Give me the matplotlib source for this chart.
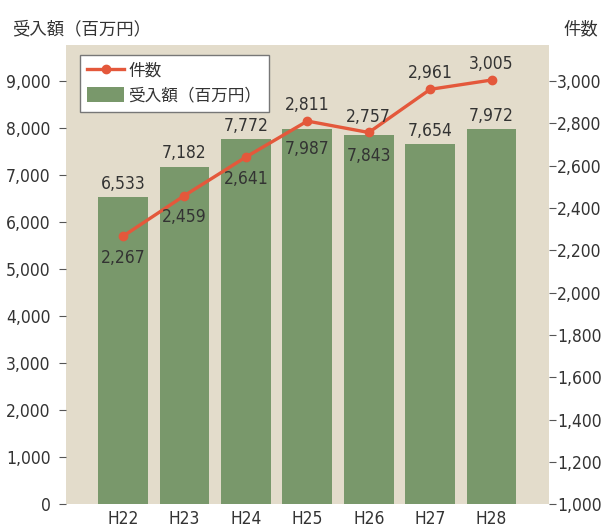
import matplotlib
matplotlib.use('Agg')
import matplotlib.pyplot as plt
import matplotlib.ticker as mticker
from matplotlib import font_manager

# data
years = ['H22', 'H23', 'H24', 'H25', 'H26', 'H27', 'H28']
amount = [6533, 7182, 7772, 7987, 7843, 7654, 7972]   # 受入額（百万円）
count = [2267, 2459, 2641, 2811, 2757, 2961, 3005]     # 件数
amount_inside = [False, False, False, True, True, False, False]
count_below = [True, True, True, False, False, False, False]

# look for a condensed face for the numbers
cond = None
for f in font_manager.fontManager.ttflist:
    fn = f.fname.lower()
    if ('narrow' in fn or 'condensed' in fn) and 'bold' not in fn and 'oblique' not in fn and 'italic' not in fn:
        cond = f.fname
        break
if cond:
    font_manager.fontManager.addfont(cond)
    num_name = font_manager.FontProperties(fname=cond).get_name()
else:
    num_name = 'Liberation Sans'
num_size = 12.5
plt.rcParams['font.family'] = [num_name, 'Noto Sans CJK JP', 'DejaVu Sans']
if cond and 'condensed' in cond.lower():
    plt.rcParams['font.stretch'] = 'condensed'
jp = ['Noto Sans CJK JP', 'DejaVu Sans']

bg = '#e3dccb'
bar_c = '#79986b'
line_c = '#e4583b'
txt = '#333333'

fig = plt.figure(figsize=(6.05, 5.28), dpi=100)
ax = fig.add_axes([0.109, 0.045, 0.798, 0.870])
ax.set_facecolor(bg)
x = list(range(len(years)))
bars = ax.bar(x, amount, width=0.81, color=bar_c, zorder=2)
ax.set_xlim(-0.93, 6.93)
ax.set_ylim(0, 9770)
ax.yaxis.set_major_locator(mticker.MultipleLocator(1000))
ax.yaxis.set_major_formatter(mticker.FuncFormatter(lambda v, p: f'{int(v):,}'))
ax.set_xticks(x)
ax.set_xticklabels(years)
for s in ax.spines.values():
    s.set_visible(False)
ax.tick_params(axis='x', length=0, labelsize=num_size, colors=txt, pad=4)
ax.tick_params(axis='y', length=5, width=0.8, labelsize=num_size, colors=txt, pad=6,
               direction='out', color='#555555')

ax2 = ax.twinx()
ax2.set_ylim(1000, 1000 + 9770 / 9000 * 2000)
ax2.yaxis.set_major_locator(mticker.MultipleLocator(200))
ax2.yaxis.set_major_formatter(mticker.FuncFormatter(lambda v, p: f'{int(v):,}'))
for s in ax2.spines.values():
    s.set_visible(False)
ax2.tick_params(axis='y', length=5, width=0.8, labelsize=num_size, colors=txt, pad=1,
                direction='out', color='#555555')
ln, = ax2.plot(x, count, color=line_c, lw=2.4, marker='o', ms=6, zorder=3)

for i, v in enumerate(amount):
    if amount_inside[i]:
        ax.annotate(f'{v:,}', (i, v), xytext=(0, -8), textcoords='offset points',
                    ha='center', va='top', fontsize=num_size, color=txt)
    else:
        ax.annotate(f'{v:,}', (i, v), xytext=(0, 3), textcoords='offset points',
                    ha='center', va='bottom', fontsize=num_size, color=txt)
for i, v in enumerate(count):
    if count_below[i]:
        ax2.annotate(f'{v:,}', (i, v), xytext=(0, -9), textcoords='offset points',
                     ha='center', va='top', fontsize=num_size, color=txt)
    else:
        ax2.annotate(f'{v:,}', (i, v), xytext=(0, 5), textcoords='offset points',
                     ha='center', va='bottom', fontsize=num_size, color=txt)

leg = ax2.legend([ln, bars], ['件数', '受入額（百万円）'], loc='upper left',
                 bbox_to_anchor=(0.029, 0.978), borderaxespad=0,
                 prop={'family': jp, 'size': 12},
                 frameon=True, fancybox=False, handlelength=2.2, handleheight=1.0,
                 borderpad=0.45, labelspacing=0.45, handletextpad=0.25, framealpha=1)
leg.get_frame().set_edgecolor('#777777')
leg.get_frame().set_linewidth(1.0)
for t in leg.get_texts():
    t.set_color(txt)

fig.text(0.02, 0.945, '受入額（百万円）', family=jp, fontsize=12.5, color=txt,
         ha='left', va='center')
fig.text(0.932, 0.945, '件数', family=jp, fontsize=12.5, color=txt,
         ha='left', va='center')

fig.savefig('out.png', dpi=100, facecolor='white')
